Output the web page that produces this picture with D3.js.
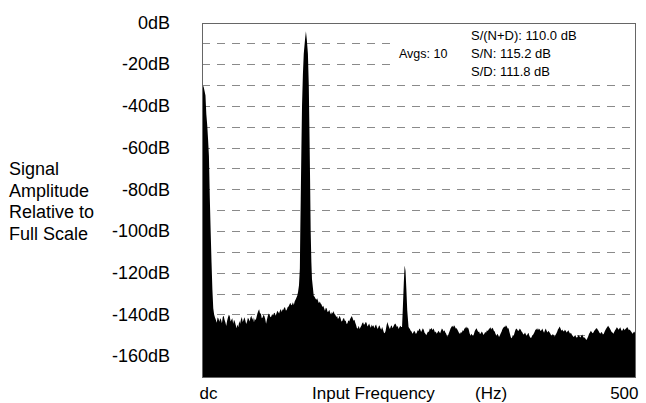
<!DOCTYPE html>
<html>
<head>
<meta charset="utf-8">
<script src="https://cdn.jsdelivr.net/npm/d3@7"></script>
<style>
  html, body { margin: 0; padding: 0; background: #fff; }
  svg { display: block; font-family: "Liberation Sans", Arial, Helvetica, sans-serif; }
</style>
</head>
<body>
<svg id="chart" width="646" height="403"></svg>
<script>
// ---- data ----
const yTicks = [0, -20, -40, -60, -80, -100, -120, -140, -160];
const gridDb = [-10, -20, -30, -40, -50, -60, -70, -80, -90, -100, -110, -120, -130, -140, -150, -160];
const xLabels = ["dc", "500"];
const yTitle = ["Signal", "Amplitude", "Relative to", "Full Scale"];
const statLines = ["S/(N+D): 110.0 dB", "S/N: 115.2 dB", "S/D: 111.8 dB"];
const avgLabel = "Avgs: 10";

// dc spike
const dcHz = [0, 1, 2, 3, 4, 5, 6, 7, 8, 9, 10, 11, 12, 13];
const dcDb = [-30, -30, -31, -33, -35, -44, -49, -56, -64, -84, -100, -115, -128, -137];

// fundamental
const fundHz = [110, 111, 112, 113, 113.5, 114, 114.8, 115.5, 116.5, 117.5, 119, 120, 121, 122.3, 123.3, 124, 124.8, 125.5, 126.3, 127, 128, 129];
const fundDb = [-131, -129, -126, -118, -100, -85, -60, -40, -25, -15, -8, -4.2, -8, -15, -30, -50, -75, -100, -115, -123, -127, -131];

// 2nd-harmonic spur
const spurHz = [231, 232, 233, 234, 235, 236, 237, 238.5];
const spurDb = [-146, -136, -125, -116.5, -119, -128, -138, -146];

// noise floor, 1 Hz bins
const noiseStep = 1;
const noiseAStart = 14;
const noiseA = [-140, -141.5, -142.6, -144, -141.5, -142, -143.5, -141.8, -142.5, -144.2,
  -141.2, -140.6, -142.5, -143.8, -145.5, -143, -141.5, -140.2, -140.8, -143.4,
  -142.5, -141.8, -144.5, -142.6, -143.5, -145.2, -146.5, -144.8, -146, -143.2,
  -144.5, -142.4, -141.2, -143.6, -142.5, -141.4, -142.8, -144.6, -143.5, -141.6,
  -142.2, -143.4, -141.5, -140.6, -142.5, -141.4, -143.8, -142, -142.8, -141.2,
  -139.5, -138.4, -137.5, -139.6, -139.5, -141.8, -141.5, -140.2, -140.8, -142.2,
  -144.5, -142.4, -140.8, -139.6, -140.2, -141.4, -141, -139.8, -140.5, -139.4,
  -139.2, -140.6, -139.5, -138.2, -138.8, -139.6, -138.2, -137.4, -138.8, -137.6,
  -137.8, -136.6, -136.8, -138.2, -137.6, -136.4, -136.2, -135.2, -134.4, -135.6,
  -135.2, -134.2, -135.5, -133.8, -133, -132];
const noiseBStart = 130;
const noiseB = [-131.5, -132.4, -133, -132.2, -133.6, -134.6, -133.8, -134.8, -135.2, -136.4,
  -135.8, -137, -138.2, -136.8, -137.2, -138.8, -138.6, -137.8, -139.2, -140,
  -138.8, -139.6, -138.4, -139.8, -140.2, -141.2, -140.8, -142.2, -141.6, -140.6,
  -141.8, -143.4, -143.2, -142, -141.8, -143, -143, -144.6, -144.2, -142.8,
  -143.4, -142.2, -141.5, -140.8, -141.8, -143, -142.6, -144, -145.2, -146.8,
  -146.6, -145.4, -147, -146.2, -145.4, -144.2, -143.8, -145, -144.6, -143.6,
  -144, -145.8, -145.2, -144.4, -145.6, -146.4, -144.8, -145.8, -145.2, -146.6,
  -145.4, -144.8, -146.2, -147, -145.8, -145.2, -146.6, -147.4, -146, -147.2,
  -148.6, -149, -148, -145.6, -143.6, -145, -146.2, -147, -145.8, -145.2,
  -146.6, -145.8, -145, -144.4, -144.8, -146, -145.6, -147, -146.2, -145.4,
  -146];
const noiseCStart = 240;
const noiseC = [-147, -147.8, -148.2, -149.2, -148.6, -147.8, -148.4, -149.4, -148.8, -147.6,
  -148, -146.8, -147.2, -148.4, -147.6, -146.6, -147.4, -148.8, -149.2, -150,
  -149, -148.2, -148.4, -146.8, -147.2, -146.4, -147.6, -146.8, -147.4, -148.6,
  -148.2, -149.2, -148.6, -147.8, -148.4, -149, -147.8, -146.8, -147.2, -148.2,
  -147.6, -148.6, -149.2, -150.6, -150.2, -149, -148, -146.8, -146, -145.4,
  -146.2, -145.2, -145.8, -146.8, -146.6, -147.4, -148.2, -149, -149.2, -148.4,
  -148.8, -147.6, -148, -146.8, -146.6, -145.8, -146.8, -146.2, -147.2, -149,
  -150.2, -149.2, -149.8, -150.4, -149.4, -148, -147.2, -146.6, -147.6, -148.4,
  -148.2, -149.4, -149, -148.2, -148.8, -149.8, -149.2, -148.4, -148.8, -147.6,
  -148, -147.2, -146.8, -146.2, -147.2, -146.4, -146.8, -147.8, -148.2, -149.4,
  -150.2, -149.2, -149.8, -150.8, -150, -149, -148.2, -147, -146.4, -145.8,
  -146, -145.2, -145.8, -146.8, -146.6, -148.4, -150, -151.4, -151, -149.8,
  -150.2, -148.6, -147.4, -146.8, -147.2, -148, -147.6, -146.8, -147.4, -148.2,
  -148.6, -149.6, -149.4, -148.6, -149.6, -150.2, -149.4, -148.8, -150.2, -151,
  -151.3, -150.4, -150, -149.2, -148.4, -147.4, -147.2, -146.6, -147.6, -146.8,
  -147.2, -148, -147.6, -146.8, -148, -148.8, -147.6, -146.8, -148, -148.6,
  -147.8, -148.4, -149, -149.8, -150.2, -149.4, -149.8, -150.6, -150, -149.2,
  -148.4, -147.2, -146.6, -145.8, -146.8, -147.8, -147.2, -148, -148.2, -147.4,
  -147.8, -148.6, -148.2, -147.6, -148.4, -149.2, -148.8, -149.6, -150.2, -150.8,
  -150.4, -149.8, -150.8, -151.2, -150.4, -149.8, -150.6, -151, -150.2, -149.6,
  -150.6, -151.2, -151, -151.8, -152.2, -151.4, -150.4, -149.2, -148.6, -147.8,
  -148.4, -149, -148.6, -147.8, -147.4, -146.8, -146.6, -147.4, -148, -148.8,
  -149.2, -148.4, -148.8, -149.6, -149.2, -148.2, -147.4, -146.6, -146, -145.4,
  -146.2, -146.8, -147.6, -148.4, -148.6, -149.2, -148.4, -147.6, -147, -146.2,
  -146.6, -147.4, -146.8, -146.2, -147.4, -148, -147.2, -146.6, -147.6, -147,
  -146.6, -146, -146.8, -147.6, -147.2, -148, -148.4, -149.2, -148.8, -148.2,
  -148.8];

// ---- build series ----
const pts = [];
dcHz.forEach((h, i) => pts.push([h, dcDb[i]]));
noiseA.forEach((v, i) => pts.push([noiseAStart + i * noiseStep, v]));
fundHz.forEach((h, i) => pts.push([h, fundDb[i]]));
noiseB.forEach((v, i) => pts.push([noiseBStart + i * noiseStep, v]));
spurHz.forEach((h, i) => pts.push([h, spurDb[i]]));
noiseC.forEach((v, i) => pts.push([noiseCStart + i * noiseStep, v]));
pts.sort((a, b) => a[0] - b[0]);

// ---- layout ----
const svg = d3.select("#chart");
const L = 202, R = 635, T = 22.5, B = 377;
const x = d3.scaleLinear().domain([0, 500]).range([L, R]);
const y = d3.scaleLinear().domain([0, -170]).range([T, B]);

// grid
svg.append("g").selectAll("line").data(gridDb).join("line")
  .attr("x1", L).attr("x2", R)
  .attr("y1", d => Math.round(y(d)) + 0.5).attr("y2", d => Math.round(y(d)) + 0.5)
  .attr("stroke", "#8a8a8a").attr("stroke-width", 1)
  .attr("stroke-dasharray", "8,7");

// white box behind stats
svg.append("rect")
  .attr("x", 392).attr("y", T + 1).attr("width", R - 392 - 1).attr("height", 56)
  .attr("fill", "#fff");

// spectrum
const area = d3.area()
  .x(d => x(d[0]))
  .y0(y(-170))
  .y1(d => y(d[1]));
svg.append("path").datum(pts).attr("d", area).attr("fill", "#000");

// frame
svg.append("rect")
  .attr("x", L + 0.5).attr("y", Math.round(T) + 0.5)
  .attr("width", R - L).attr("height", B - Math.round(T))
  .attr("fill", "none").attr("stroke", "#666").attr("stroke-width", 1);

// y axis labels
const yAxis = d3.axisLeft(y).tickValues(yTicks).tickFormat(d => d + "dB").tickSize(0).tickPadding(32);
const gy = svg.append("g").attr("transform", `translate(${L},0)`).call(yAxis);
gy.select(".domain").remove();
gy.selectAll("text").attr("font-size", 18).attr("fill", "#000")
  .attr("font-family", '"Liberation Sans", Arial, sans-serif');

// x axis labels
const xAxis = d3.axisBottom(x).tickValues([0, 500]).tickFormat((d, i) => xLabels[i]).tickSize(0).tickPadding(0);
const gx = svg.append("g").attr("transform", `translate(0,${B})`).call(xAxis);
gx.select(".domain").remove();
gx.selectAll("text")
  .attr("font-size", 17).attr("fill", "#000")
  .attr("font-family", '"Liberation Sans", Arial, sans-serif')
  .attr("y", 22).attr("dy", 0)
  .attr("text-anchor", (d, i) => i === 0 ? "start" : "end")
  .attr("dx", (d, i) => i === 0 ? -3 : 3);

svg.append("text").attr("x", 312).attr("y", 399).attr("font-size", 17).text("Input Frequency");
svg.append("text").attr("x", 475).attr("y", 399).attr("font-size", 17).text("(Hz)");

// y title
svg.append("g").selectAll("text").data(yTitle).join("text")
  .attr("x", 9).attr("y", (d, i) => 175 + i * 21.5)
  .attr("font-size", 18).text(d => d);

// stats
svg.append("g").selectAll("text").data(statLines).join("text")
  .attr("x", 471).attr("y", (d, i) => 40 + i * 18)
  .attr("font-size", 13).text(d => d);
svg.append("text").attr("x", 399).attr("y", 58).attr("font-size", 12.5).text(avgLabel);
</script>
</body>
</html>
